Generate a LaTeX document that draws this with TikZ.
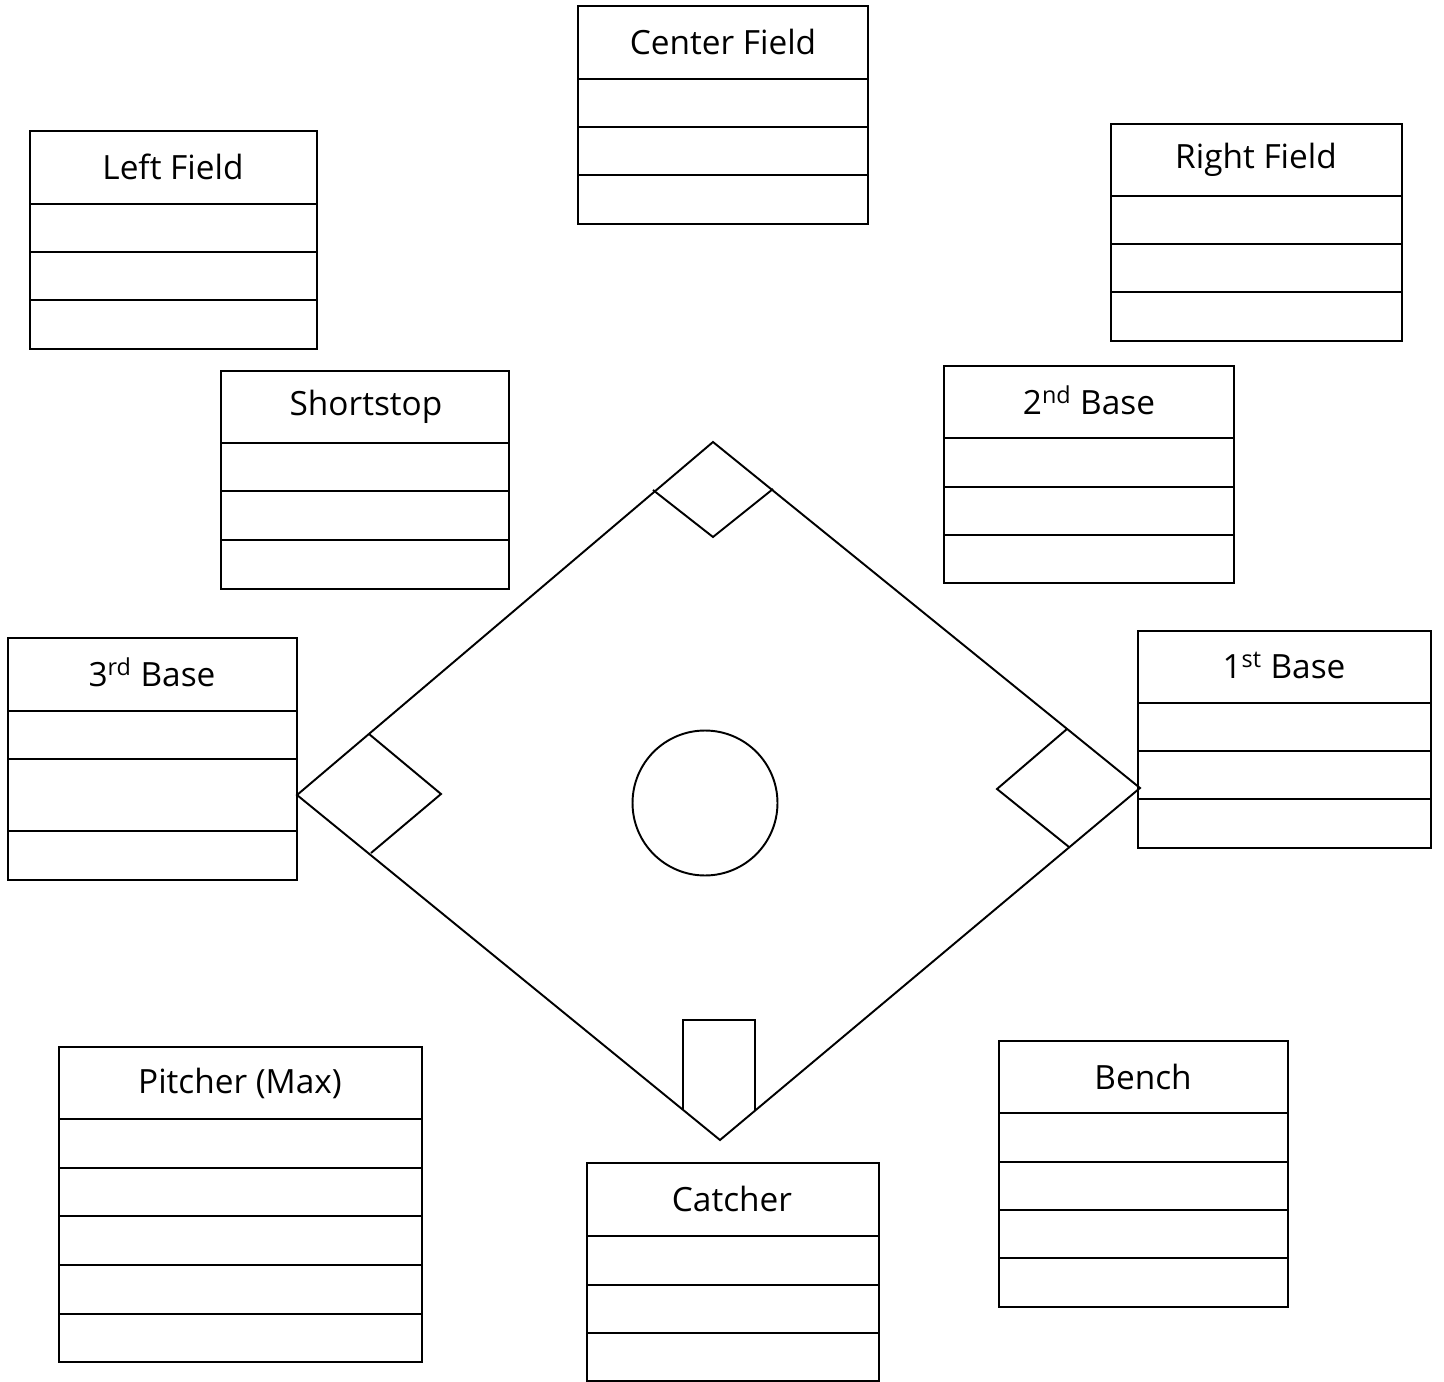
\documentclass[tikz,border=0pt]{standalone}
\usepackage{fontspec}
\setmainfont{Open Sans}
\usepackage{tikz}
\usetikzlibrary{calc}
\tikzset{
  card/.style={draw, line width=1.1pt},
  rowline/.style={line width=1.1pt},
  field/.style={draw, line width=1.1pt, line join=miter},
  postitle/.style={font=\fontsize{19}{23}\selectfont, inner sep=0pt}
}

\begin{document}
\begin{tikzpicture}[x=0.02cm, y=-0.02cm]
  \useasboundingbox (0,0) rectangle (1444,1382);

  % infield corners
  \coordinate (home) at (720,1140);
  \coordinate (first) at (1140,788);
  \coordinate (second) at (713,442);
  \coordinate (third) at (297,795);

  % diamond and bases
  \draw[field] (home) -- (first) -- (second) -- (third) -- cycle;
  \draw[field] (653,490) -- (713,537) -- (773,489);
  \draw[field] (369,734) -- (441,794) -- (371,853);
  \draw[field] (1067,729) -- (997,789) -- (1069,847);
  \draw[field] (683,1110) -- (683,1020) -- (755,1020) -- (755,1110);
  \node[draw, circle, line width=1.1pt, minimum size=2.9cm, inner sep=0pt] (mound) at (705,803) {};

  % Center Field
  \draw[card] (578,6) rectangle (868,224);
  \foreach \yy in {79,127,175} \draw[rowline] (578,\yy) -- (868,\yy);
  \node[postitle] (cf) at (723,42) {Center Field};

  % Left Field
  \draw[card] (30,131) rectangle (317,349);
  \foreach \yy in {204,252,300} \draw[rowline] (30,\yy) -- (317,\yy);
  \node[postitle] (lf) at (173,167) {Left Field};

  % Right Field
  \draw[card] (1111,124) rectangle (1402,341);
  \foreach \yy in {196,244,292} \draw[rowline] (1111,\yy) -- (1402,\yy);
  \node[postitle] (rf) at (1256,160) {Right Field};

  % Shortstop
  \draw[card] (221,371) rectangle (509,589);
  \foreach \yy in {443,491,540} \draw[rowline] (221,\yy) -- (509,\yy);
  \node[postitle] (ss) at (366,407) {Shortstop};

  % 2nd Base
  \draw[card] (944,366) rectangle (1234,583);
  \foreach \yy in {438,487,535} \draw[rowline] (944,\yy) -- (1234,\yy);
  \node[postitle] (b2) at (1089,400) {2\textsuperscript{nd} Base};

  % 3rd Base
  \draw[card] (8,638) rectangle (297,880);
  \foreach \yy in {711,759,831} \draw[rowline] (8,\yy) -- (297,\yy);
  \node[postitle] (b3) at (152,672) {3\textsuperscript{rd} Base};

  % 1st Base
  \draw[card] (1138,631) rectangle (1431,848);
  \foreach \yy in {703,751,799} \draw[rowline] (1138,\yy) -- (1431,\yy);
  \node[postitle] (b1) at (1284,665) {1\textsuperscript{st} Base};

  % Pitcher
  \draw[card] (59,1047) rectangle (422,1362);
  \foreach \yy in {1119,1168,1216,1265,1314} \draw[rowline] (59,\yy) -- (422,\yy);
  \node[postitle] (p) at (240,1083) {Pitcher (Max)};

  % Catcher
  \draw[card] (587,1163) rectangle (879,1381);
  \foreach \yy in {1236,1285,1333} \draw[rowline] (587,\yy) -- (879,\yy);
  \node[postitle] (c) at (732,1199) {Catcher};

  % Bench
  \draw[card] (999,1041) rectangle (1288,1307);
  \foreach \yy in {1113,1162,1210,1258} \draw[rowline] (999,\yy) -- (1288,\yy);
  \node[postitle] (bench) at (1143,1077) {Bench};
\end{tikzpicture}
\end{document}
